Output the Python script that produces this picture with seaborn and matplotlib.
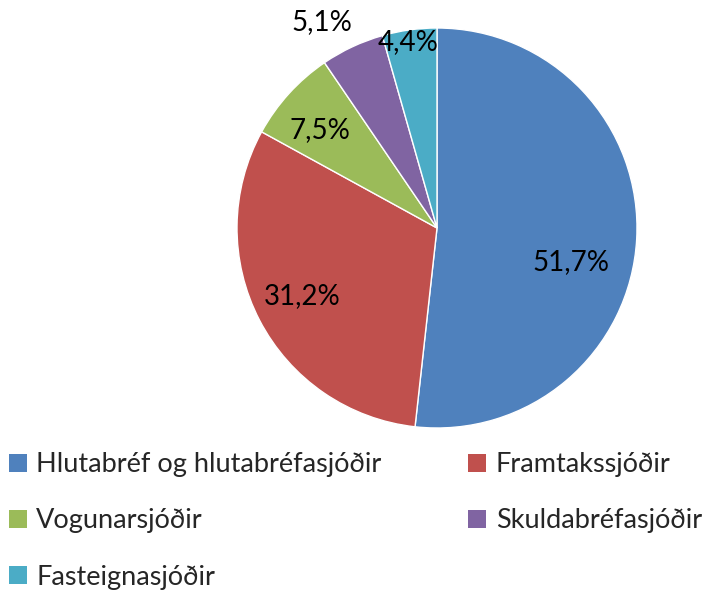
import matplotlib
matplotlib.use("Agg")
import matplotlib.pyplot as plt
import matplotlib.patches as mpatches
import seaborn as sns

# data
categories = ["Hlutabréf og hlutabréfasjóðir", "Framtakssjóðir", "Vogunarsjóðir",
              "Skuldabréfasjóðir", "Fasteignasjóðir"]
shares = [51.7, 31.2, 7.5, 5.1, 4.4]
labels = ["51,7%", "31,2%", "7,5%", "5,1%", "4,4%"]
colors = ["#4F81BD", "#C0504D", "#9BBB59", "#8064A2", "#4BACC6"]

# label anchor points in pie units (Excel-style placement)
label_pos = [(0.67, -0.17), (-0.675, -0.34), (-0.585, 0.49), (-0.575, 1.03), (-0.145, 0.93)]

sns.set_theme(style="white")
plt.rcParams["font.family"] = ["Lato", "DejaVu Sans"]
palette = sns.color_palette(colors)

W, H = 728, 592
fig = plt.figure(figsize=(W / 100, H / 100), dpi=100)
cx, cy, r = 437, 228, 200
ax = fig.add_axes([(cx - r) / W, (H - cy - r) / H, 2 * r / W, 2 * r / H])

ax.pie(shares, colors=palette, startangle=90, counterclock=False, radius=1,
       wedgeprops=dict(edgecolor="white", linewidth=1))
ax.set_xlim(-1, 1)
ax.set_ylim(-1, 1)
ax.set_aspect("auto")
ax.axis("off")

for (x, y), txt in zip(label_pos, labels):
    ax.text(x, y, txt, ha="center", va="center", fontsize=20, color="black")

handles = [mpatches.Patch(facecolor=c, edgecolor="none") for c in palette]
# matplotlib fills legend column-first; reorder so rows read left to right
order = [0, 2, 4, 1, 3]
fig.legend([handles[i] for i in order], [categories[i] for i in order],
           loc="upper left", bbox_to_anchor=(0.012, 0.236), ncol=2, frameon=False,
           fontsize=19.5, handlelength=0.67, handleheight=0.67, handletextpad=0.35,
           columnspacing=3.2, labelspacing=1.15, borderaxespad=0, borderpad=0)

fig.savefig("out.png", dpi=100, facecolor="white")
